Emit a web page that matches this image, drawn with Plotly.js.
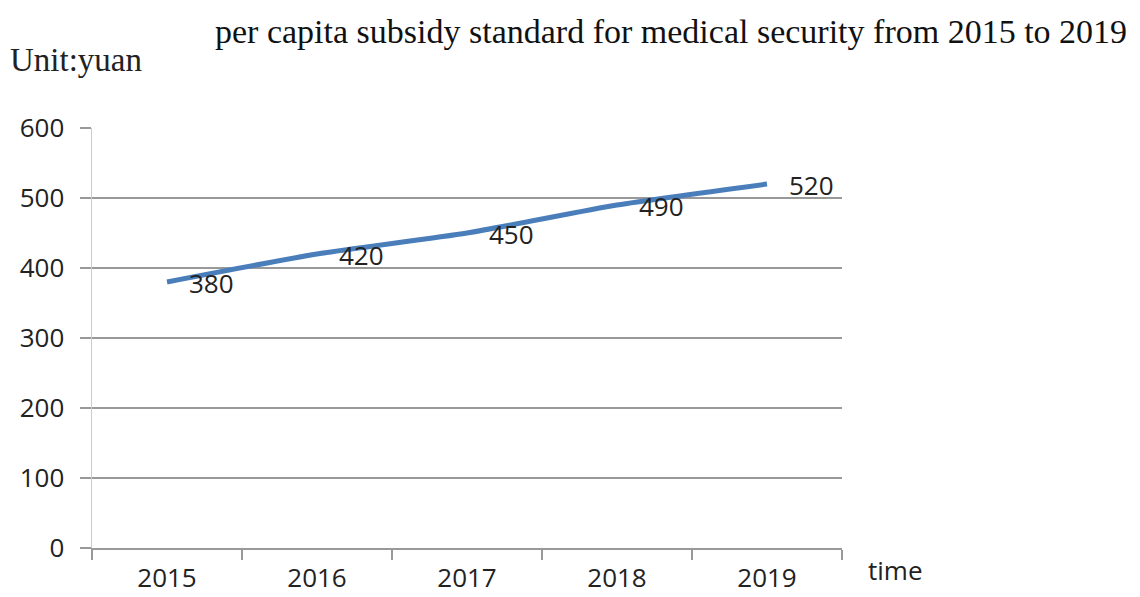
<!DOCTYPE html>
<html>
<head>
<meta charset="utf-8">
<script src="https://cdn.plot.ly/plotly-3.0.1.min.js"></script>
<style>html,body{margin:0;padding:0;background:#fff;}#chart{width:1140px;height:597px;}</style>
</head>
<body>
<div id="chart"></div>
<script>
const years = ["2015", "2016", "2017", "2018", "2019"];
const subsidy = [380, 420, 450, 490, 520];
const titleText = "per capita subsidy standard for medical security from 2015 to 2019";
const unitText = "Unit:yuan";
const xAxisName = "time";

const sans = "Open Sans, Liberation Sans, sans-serif";
const serif = "Liberation Serif, Times New Roman, serif";

const trace = {
  x: years,
  y: subsidy,
  type: "scatter",
  mode: "lines",
  line: {color: "#4A7EBB", width: 5, shape: "spline", smoothing: 0.6},
  hoverinfo: "skip"
};

const labelAnns = years.map((yr, i) => ({
  x: i, y: subsidy[i], xref: "x", yref: "y",
  text: String(subsidy[i]), showarrow: false,
  xanchor: "center", yanchor: "middle",
  xshift: 44, yshift: -1,
  font: {family: sans, size: 26, color: "#222"}
}));

const layout = {
  width: 1140, height: 597,
  margin: {l: 92, r: 298, t: 128, b: 49},
  paper_bgcolor: "#fff", plot_bgcolor: "#fff",
  showlegend: false,
  title: {
    text: titleText,
    font: {family: serif, size: 34, color: "#111"},
    x: 215/1140, xanchor: "left", xref: "container",
    y: 1 - 31/597, yanchor: "middle", yref: "container"
  },
  xaxis: {
    type: "category",
    range: [-0.5, 4.5],
    tickson: "boundaries",
    ticks: "outside", ticklen: 10, tickcolor: "#999", tickwidth: 1.5,
    showgrid: false, zeroline: false,
    showline: true, linecolor: "#999", linewidth: 2,
    ticklabelstandoff: 6,
    tickfont: {family: sans, size: 26, color: "#222"},
    fixedrange: true
  },
  yaxis: {
    range: [0, 600], dtick: 100, tick0: 0,
    ticks: "outside", ticklen: 11, tickcolor: "#999", tickwidth: 2,
    showgrid: true, gridcolor: "#999", gridwidth: 2,
    zeroline: false,
    showline: true, linecolor: "#ccc", linewidth: 1.5,
    ticklabelstandoff: 10,
    tickfont: {family: sans, size: 26, color: "#222"},
    fixedrange: true
  },
  annotations: labelAnns.concat([
    {xref: "paper", yref: "paper", x: -84/750, y: 1 + (128-60)/420, xanchor: "left", yanchor: "middle",
     text: unitText, showarrow: false, font: {family: serif, size: 33, color: "#222"}},
    {xref: "paper", yref: "paper", x: (866-92)/750, y: -(570-548)/420, xanchor: "left", yanchor: "middle",
     text: xAxisName, showarrow: false, font: {family: sans, size: 26, color: "#222"}}
  ])
};

Plotly.newPlot("chart", [trace], layout, {displayModeBar: false, staticPlot: true});
</script>
</body>
</html>
